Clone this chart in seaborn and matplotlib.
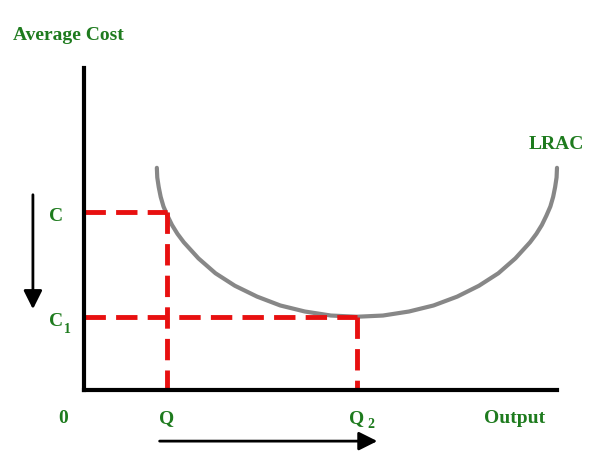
import matplotlib
matplotlib.use("Agg")
import matplotlib.pyplot as plt
import seaborn as sns

# LRAC curve (output, average cost)
lrac_x = [1.54, 1.549, 1.58, 1.621, 1.68, 1.765, 1.86, 1.976, 2.11, 2.42, 2.78, 3.19, 3.66,
          4.15, 4.67, 5.22, 5.77, 6.32, 6.87, 7.39, 7.89, 8.35, 8.76, 9.12, 9.43, 9.564,
          9.68, 9.775, 9.86, 9.919, 9.96, 9.991, 10.0]
lrac_y = [5.52, 5.28, 5.04, 4.80, 4.56, 4.33, 4.10, 3.88, 3.67, 3.27, 2.90, 2.59, 2.32,
          2.10, 1.95, 1.85, 1.82, 1.85, 1.95, 2.10, 2.32, 2.59, 2.90, 3.27, 3.67, 3.88,
          4.10, 4.33, 4.56, 4.80, 5.04, 5.28, 5.52]

q1, c1_cost = 1.75, 4.42   # point Q, C
q2, c2_cost = 5.77, 1.82   # point Q2, C1

green = "#1e7b1e"
red = "#e81010"

sns.set_style("white")
plt.rcParams["font.family"] = ["Liberation Serif", "DejaVu Serif"]

fig = plt.figure(figsize=(6.1, 4.65), dpi=100)
ax = fig.add_axes([84 / 610, 75 / 465, 473 / 610, 322 / 465])
ax.set_xlim(0, 10)
ax.set_ylim(0, 8)

sns.lineplot(x=lrac_x, y=lrac_y, sort=False, estimator=None, color="#878787",
             lw=3, ax=ax, clip_on=False, solid_joinstyle="round")

dash = (0, (4.4, 2.1))
for xs, ys in [([0, q1], [c1_cost, c1_cost]), ([q1, q1], [c1_cost, 0]),
               ([0, q2], [c2_cost, c2_cost]), ([q2, q2], [c2_cost, 0])]:
    ax.plot(xs, ys, color=red, lw=3.5, linestyle=dash, clip_on=False)

for s in ["top", "right"]:
    ax.spines[s].set_visible(False)
for s in ["left", "bottom"]:
    ax.spines[s].set_linewidth(3)
    ax.spines[s].set_color("black")
ax.set_xticks([])
ax.set_yticks([])

kw = dict(color=green, fontsize=14, fontweight="bold", va="center", clip_on=False)
sub = dict(color=green, fontsize=10, fontweight="bold", va="center", clip_on=False)
ax.text(-1.5, 8.8, "Average Cost", ha="left", **kw)
ax.text(9.98, 6.09, "LRAC", ha="center", **kw)
ax.text(-0.59, c1_cost - 0.1, "C", ha="center", **kw)
ax.text(-0.59, c2_cost - 0.12, "C", ha="center", **kw)
ax.text(-0.36, c2_cost - 0.32, "1", ha="center", **sub)
ax.text(-0.44, -0.7, "0", ha="center", **kw)
ax.text(q1, -0.7, "Q", ha="center", **kw)
ax.text(q2, -0.7, "Q", ha="center", **kw)
ax.text(q2 + 0.3, -0.86, "2", ha="center", **sub)
ax.text(9.11, -0.7, "Output", ha="center", **kw)

arrow = dict(arrowstyle="-|>", lw=2, color="black", mutation_scale=28)
ax.annotate("", xy=(-1.08, 1.94), xytext=(-1.08, 4.92), arrowprops=arrow,
            annotation_clip=False)
ax.annotate("", xy=(6.26, -1.27), xytext=(1.54, -1.27), arrowprops=arrow,
            annotation_clip=False)

fig.savefig("out.png", dpi=100)
